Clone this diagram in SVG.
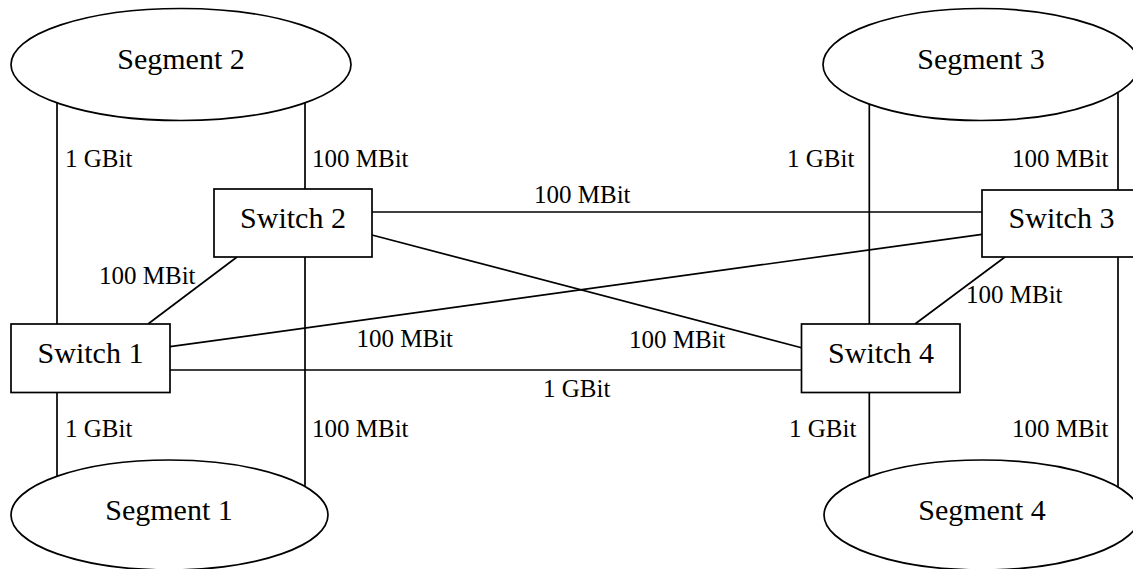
<svg xmlns="http://www.w3.org/2000/svg" width="1133" height="569" viewBox="0 0 1133 569">
<style>
.edge{stroke:#000;stroke-width:1.7;fill:none}
.seg{fill:#fff;stroke:#000;stroke-width:1.7}
.sw{fill:#fff;stroke:#000;stroke-width:1.7}
.nt{font-family:"Liberation Serif","Times New Roman",serif;font-size:30px;fill:#000;text-anchor:middle}
.lb{font-family:"Liberation Serif","Times New Roman",serif;font-size:25px;fill:#000}
</style>
<rect width="1133" height="569" fill="#fff"/>
<g id="connectors">
<line class="edge" x1="57" y1="102.8" x2="57" y2="324"/>
<line class="edge" x1="305" y1="102.8" x2="305" y2="189"/>
<line class="edge" x1="57" y1="392.5" x2="57" y2="476.3"/>
<line class="edge" x1="305" y1="257" x2="305" y2="486.5"/>
<line class="edge" x1="869.3" y1="104" x2="869.3" y2="324"/>
<line class="edge" x1="1118" y1="92.4" x2="1118" y2="190"/>
<line class="edge" x1="869.3" y1="392.5" x2="869.3" y2="476.5"/>
<line class="edge" x1="1118" y1="257" x2="1118" y2="487"/>
<line class="edge" x1="148" y1="324" x2="237" y2="257"/>
<line class="edge" x1="372" y1="212" x2="982" y2="212"/>
<line class="edge" x1="372" y1="235" x2="801.5" y2="347.7"/>
<line class="edge" x1="170" y1="346.7" x2="982" y2="234.3"/>
<line class="edge" x1="170" y1="370" x2="801.5" y2="370"/>
<line class="edge" x1="1005" y1="257" x2="915" y2="324"/>
</g>
<g id="labels">
<text class="lb" x="65" y="167">1 GBit</text>
<text class="lb" x="312" y="167">100 MBit</text>
<text class="lb" x="65" y="437">1 GBit</text>
<text class="lb" x="312" y="437">100 MBit</text>
<text class="lb" x="787" y="167">1 GBit</text>
<text class="lb" x="1012" y="167">100 MBit</text>
<text class="lb" x="789" y="437">1 GBit</text>
<text class="lb" x="1012" y="437">100 MBit</text>
<text class="lb" x="99" y="284">100 MBit</text>
<text class="lb" x="534" y="203">100 MBit</text>
<text class="lb" x="356.5" y="347">100 MBit</text>
<text class="lb" x="629" y="348">100 MBit</text>
<text class="lb" x="543" y="397">1 GBit</text>
<text class="lb" x="966" y="303">100 MBit</text>
</g>
<g id="segment2"><ellipse class="seg" cx="181" cy="64.5" rx="170" ry="56"/><text class="nt" x="181" y="69">Segment 2</text></g>
<g id="segment3"><ellipse class="seg" cx="981" cy="64.5" rx="158" ry="56"/><text class="nt" x="981" y="69">Segment 3</text></g>
<g id="segment1"><ellipse class="seg" cx="169.5" cy="515" rx="158.5" ry="55"/><text class="nt" x="169" y="520">Segment 1</text></g>
<g id="segment4"><ellipse class="seg" cx="982" cy="515" rx="158" ry="55"/><text class="nt" x="982" y="520">Segment 4</text></g>
<g id="switch1"><rect class="sw" x="11" y="324" width="159" height="68.5"/><text class="nt" x="90.5" y="363">Switch 1</text></g>
<g id="switch2"><rect class="sw" x="214" y="189" width="158" height="68"/><text class="nt" x="293" y="228">Switch 2</text></g>
<g id="switch3"><rect class="sw" x="982" y="190" width="159" height="67"/><text class="nt" x="1061.5" y="228">Switch 3</text></g>
<g id="switch4"><rect class="sw" x="801.5" y="324" width="158.5" height="68.5"/><text class="nt" x="881" y="363">Switch 4</text></g>
</svg>
